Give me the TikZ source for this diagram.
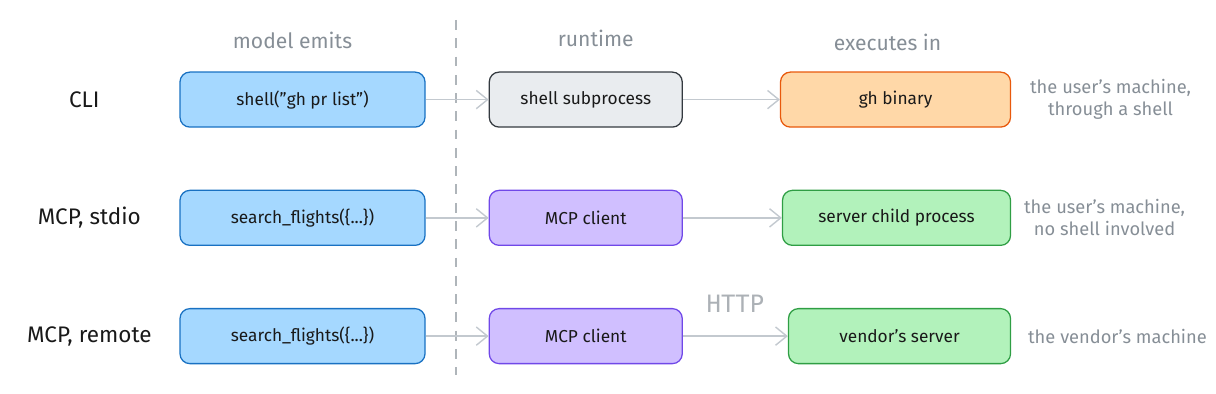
\documentclass[tikz,border=0pt]{standalone}
\usepackage{fontspec}
\setmainfont{Fira Sans}
\newfontfamily\monofont{DejaVu Sans Mono}
\usetikzlibrary{arrows.meta,positioning,calc}
\definecolor{skyfill}{HTML}{A5D8FF}
\definecolor{skyline}{HTML}{1971C2}
\definecolor{greyfill}{HTML}{E9ECEF}
\definecolor{greyline}{HTML}{343A40}
\definecolor{amberfill}{HTML}{FFD8A8}
\definecolor{amberline}{HTML}{E8590C}
\definecolor{violetfill}{HTML}{D0BFFF}
\definecolor{violetline}{HTML}{7048E8}
\definecolor{mintfill}{HTML}{B2F2BB}
\definecolor{mintline}{HTML}{2F9E44}
\definecolor{notegrey}{HTML}{868E96}
\definecolor{wiregrey}{HTML}{C3C9CF}
\tikzset{
  stagebox/.style={
    rectangle, rounded corners=7pt, draw=#1line, fill=#1fill, line width=0.9pt,
    minimum height=1.375cm, font=\fontsize{12.3}{14}\selectfont,
    text=black!90, align=center, inner sep=3pt
  },
  stagebox/.default=sky,
  colhead/.style={font=\fontsize{15}{17}\selectfont, text=notegrey},
  rowlabel/.style={font=\fontsize{16}{18}\selectfont, text=black!90},
  sidenote/.style={font=\fontsize{13}{15.5}\selectfont, text=notegrey,
    align=center},
  flowarrow/.style={
    -{Straight Barb[length=8pt, width=13pt]}, line width=1pt, color=wiregrey
  },
}
\begin{document}
\begin{tikzpicture}[node distance=1.55cm and 1.575cm]
\useasboundingbox (0,0) rectangle (30.4,-9.85);
% row: CLI
\node[stagebox, minimum width=6.125cm] (cli-emit) at (7.5625,-2.49) {shell("gh pr list")};
\node[stagebox=grey, minimum width=4.825cm, right=of cli-emit] (cli-run) {shell subprocess};
\node[stagebox=amber, minimum width=5.75cm, right=2.425cm of cli-run] (cli-exec) {gh binary};
% row: MCP, stdio
\node[stagebox, minimum width=6.125cm, below=of cli-emit] (stdio-emit) {search\_flights(\{...\})};
\node[stagebox=violet, minimum width=4.825cm, right=of stdio-emit] (stdio-run) {MCP client};
\node[stagebox=mint, minimum width=5.7cm, right=2.475cm of stdio-run] (stdio-exec) {server child process};
% row: MCP, remote
\node[stagebox, minimum width=6.125cm, below=of stdio-emit] (remote-emit) {search\_flights(\{...\})};
\node[stagebox=violet, minimum width=4.825cm, right=of remote-emit] (remote-run) {MCP client};
\node[stagebox=mint, minimum width=5.55cm, right=2.625cm of remote-run] (remote-exec) {vendor's server};
% column heads
\node[colhead, above=0.45cm of cli-emit, xshift=-0.25cm] (head-emit) {model emits};
\node[colhead, above=0.5cm of cli-run, xshift=0.25cm] (head-run) {runtime};
\node[colhead, above=0.4cm of cli-exec, xshift=-0.2cm] (head-exec) {executes in};
% row labels
\node[rowlabel, left=2.375cm of cli-emit.west, anchor=center] (cli-label) {CLI};
\node[rowlabel, left=2.25cm of stdio-emit.west, anchor=center] (stdio-label) {MCP, stdio};
\node[rowlabel, left=2.25cm of remote-emit.west, anchor=center] (remote-label) {MCP, remote};
% notes
\node[sidenote, right=0.35cm of cli-exec] (cli-note) {the user's machine,\\through a shell};
\node[sidenote, right=0.2cm of stdio-exec] (stdio-note) {the user's machine,\\no shell involved};
\node[sidenote, right=0.3cm of remote-exec] (remote-note) {the vendor's machine};
% divider
\coordinate (split-top) at (11.4,-0.5);
\coordinate (split-bot) at (11.4,-9.375);
\draw[wiregrey!90!black, line width=0.8pt, dash pattern=on 7pt off 6pt] (split-top) -- (split-bot);
% arrows
\draw[flowarrow] (cli-emit) -- (cli-run);
\draw[flowarrow] (cli-run) -- (cli-exec);
\draw[flowarrow] (stdio-emit) -- (stdio-run);
\draw[flowarrow] (stdio-run) -- (stdio-exec);
\draw[flowarrow] (remote-emit) -- (remote-run);
\draw[flowarrow] (remote-run) -- (remote-exec)
  node[midway, above=0.45cm, font=\monofont\fontsize{17}{19}\selectfont, text=wiregrey!88!black] {HTTP};
\end{tikzpicture}
\end{document}
